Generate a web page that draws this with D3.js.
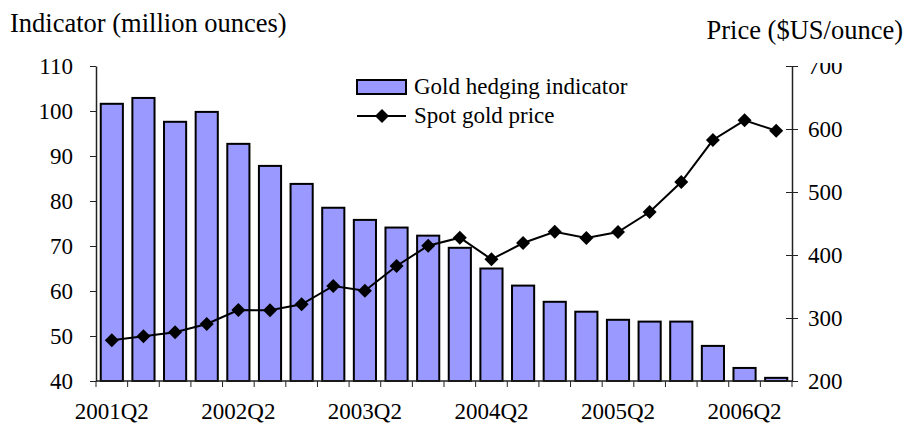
<!DOCTYPE html>
<html>
<head>
<meta charset="utf-8">
<script src="https://cdn.jsdelivr.net/npm/d3@7"></script>
<style>
  body { margin: 0; background: #fff; }
  svg { font-family: "Liberation Serif", "Times New Roman", serif; }
  .axis path, .axis line { stroke: #222; }
  .axis text { font-size: 23px; fill: #000; font-family: "Liberation Serif", serif; }
</style>
</head>
<body>
<script>
// quarters 2001Q2 .. 2006Q3
const quarters = ['2001Q2','2001Q3','2001Q4','2002Q1','2002Q2','2002Q3','2002Q4','2003Q1',
  '2003Q2','2003Q3','2003Q4','2004Q1','2004Q2','2004Q3','2004Q4','2005Q1',
  '2005Q2','2005Q3','2005Q4','2006Q1','2006Q2','2006Q3']
// gold hedging indicator, million ounces
const hedging = [101.6, 102.9, 97.6, 99.8, 92.7, 87.8, 83.8, 78.5, 75.8, 74.1, 72.3,
  69.6, 65.0, 61.2, 57.6, 55.4, 53.6, 53.2, 53.2, 47.8, 42.9, 40.7]
// spot gold price, $US/ounce
const price = [264.6, 270.9, 277.3, 290.5, 312.7, 312.2, 321.7, 350.8, 343.3, 382.5, 414.8,
  427.5, 393.2, 419.0, 436.9, 427.0, 436.5, 468.3, 515.9, 582.5, 613.8, 597.3]
const leftTicks = [40, 50, 60, 70, 80, 90, 100, 110]
const rightTicks = [200, 300, 400, 500, 600, 700]
const xLabels = ['2001Q2','2002Q2','2003Q2','2004Q2','2005Q2','2006Q2']

const W = 908, H = 423
const m = {left: 96, right: 116, top: 66, bottom: 42}

const svg = d3.select('body').append('svg').attr('width', W).attr('height', H)

const x = d3.scaleBand().domain(quarters).range([m.left, W - m.right]).paddingInner(0.3).paddingOuter(0.15)
const yL = d3.scaleLinear().domain([40, 110]).range([H - m.bottom, m.top])
const yR = d3.scaleLinear().domain([200, 700]).range([H - m.bottom, m.top])

// bars
svg.append('g').selectAll('rect')
  .data(hedging)
  .enter().append('rect')
    .attr('x', (d,i) => x(quarters[i]))
    .attr('y', d => yL(d))
    .attr('width', x.bandwidth())
    .attr('height', d => yL(40) - yL(d))
    .attr('fill', '#9999ff')
    .attr('stroke', '#000')
    .attr('stroke-width', 2)

// left axis
const axL = svg.append('g').classed('axis', true)
  .attr('transform', `translate(${m.left},0)`)
  .call(d3.axisLeft(yL).tickValues(leftTicks).tickSize(6).tickPadding(17).tickSizeOuter(0))
axL.select('.domain').attr('stroke-width', 1.5)

// right axis, ticks cross the line
const axR = svg.append('g').classed('axis', true)
  .attr('transform', `translate(${W - m.right},0)`)
  .call(d3.axisRight(yR).tickValues(rightTicks).tickSize(6).tickPadding(10).tickSizeOuter(0))
axR.selectAll('.tick line').attr('x1', -6)
axR.select('.domain').attr('stroke-width', 1.5)

// bottom axis: ticks at category boundaries
const bottom = svg.append('g').classed('axis', true)
  .attr('transform', `translate(0,${H - m.bottom})`)
bottom.append('line')
  .attr('x1', m.left).attr('x2', W - m.right).attr('stroke', '#222').attr('stroke-width', 1.5)
const bounds = d3.range(quarters.length + 1).map(i => m.left + (W - m.left - m.right) * i / quarters.length)
bottom.selectAll('line.tk').data(bounds).enter().append('line')
  .classed('tk', true)
  .attr('x1', d => d).attr('x2', d => d).attr('y1', 0).attr('y2', 6)
  .attr('stroke', '#222')
bottom.selectAll('text').data(xLabels).enter().append('text')
  .attr('x', d => x(d) + x.bandwidth() / 2)
  .attr('y', 38)
  .attr('text-anchor', 'middle')
  .text(d => d)

// price line
const line = d3.line().x((d,i) => x(quarters[i]) + x.bandwidth() / 2).y(d => yR(d))
svg.append('path').datum(price)
  .attr('d', line).attr('fill', 'none').attr('stroke', '#000').attr('stroke-width', 2)
const diamond = d3.symbol().type(d3.symbolDiamond2).size(125)
svg.append('g').selectAll('path')
  .data(price)
  .enter().append('path')
    .attr('d', diamond)
    .attr('transform', (d,i) => `translate(${x(quarters[i]) + x.bandwidth() / 2},${yR(d)})`)
    .attr('fill', '#000')

// the 700 label is clipped at the top in the original
svg.append('rect').attr('x', W - m.right + 8).attr('y', 44).attr('width', 60).attr('height', 19).attr('fill', '#fff')

// titles
svg.append('text').attr('x', 10).attr('y', 32).attr('font-size', 26.5).text('Indicator (million ounces)')
svg.append('text').attr('x', 903).attr('y', 39).attr('font-size', 26.5).attr('text-anchor', 'end').text('Price ($US/ounce)')

// legend
const lg = svg.append('g').attr('font-size', 23)
lg.append('rect').attr('x', 357).attr('y', 80).attr('width', 49).attr('height', 14)
  .attr('fill', '#9999ff').attr('stroke', '#000').attr('stroke-width', 2)
lg.append('text').attr('x', 414).attr('y', 94).text('Gold hedging indicator')
lg.append('line').attr('x1', 357).attr('x2', 406).attr('y1', 116).attr('y2', 116)
  .attr('stroke', '#000').attr('stroke-width', 2)
lg.append('path').attr('d', diamond).attr('transform', 'translate(382,116)').attr('fill', '#000')
lg.append('text').attr('x', 414).attr('y', 123).text('Spot gold price')
</script>
</body>
</html>
